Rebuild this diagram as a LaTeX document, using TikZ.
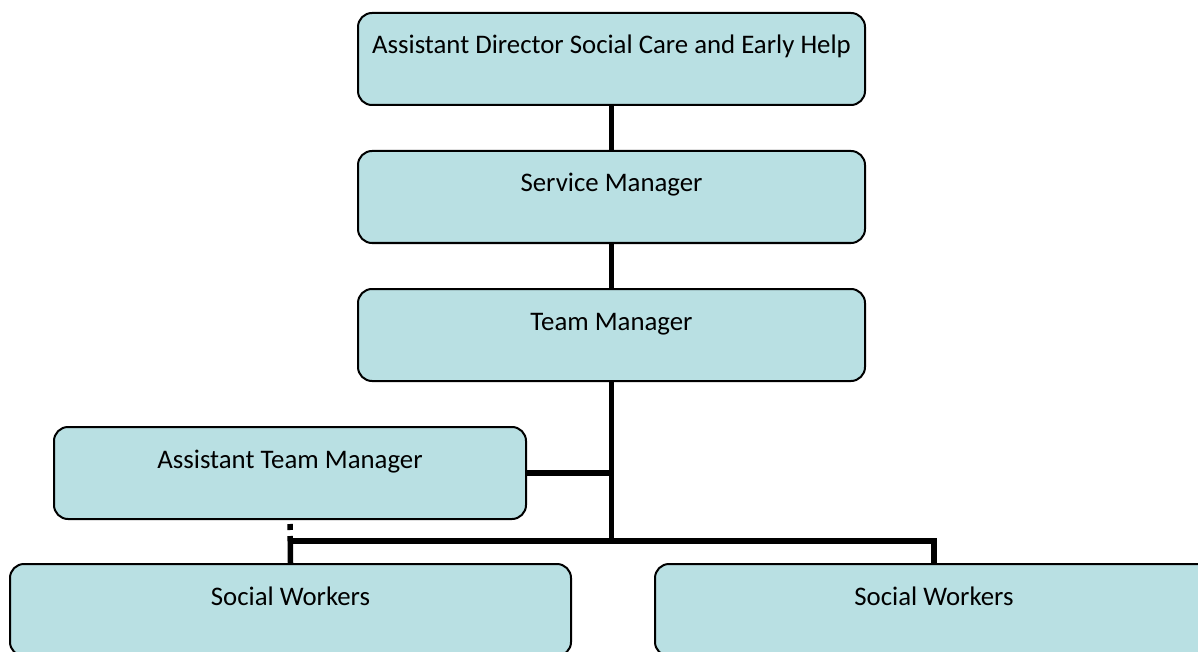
\documentclass[tikz,border=0pt]{standalone}
\usepackage{fontspec}
\setmainfont{Carlito}
\definecolor{boxfill}{RGB}{185,224,227}
\begin{document}
\begin{tikzpicture}[x=1pt, y=-1pt,
        box/.style={draw, line width=2pt, fill=boxfill, rounded corners=14pt,
            inner xsep=0pt, inner ysep=0pt, text height=41pt, text depth=51pt,
            anchor=north, font=\fontsize{26.8}{30}\selectfont},
        link/.style={line width=5.5pt}]
            \clip (0,0) rectangle (1198,652);
            \node[box, minimum width=507pt] (ad) at (611.5,12) {Assistant Director Social Care and Early Help};
            \node[box, minimum width=507pt] (sm) at (611.5,150) {Service Manager};
            \node[box, minimum width=507pt] (tm) at (611.5,288) {Team Manager};
            \node[box, minimum width=472pt] (atm) at (290,426) {Assistant Team Manager};
            \node[box, minimum width=561pt] (swl) at (290.5,563) {Social Workers};
            \node[box, minimum width=558pt] (swr) at (934,563) {Social Workers};
            \coordinate (bus) at (611.5,541);
            \draw[link] (ad.south) -- (sm.north);
            \draw[link] (sm.south) -- (tm.north);
            \draw[link] (tm.south) -- (bus);
            \draw[link] (atm.east) -- (atm.east -| tm.south);
            \draw[link] (swl.north |- bus) -- (bus -| swr.north) -- (swr.north);
            \draw[link, dash pattern=on 0pt off 4pt on 6pt off 6pt on 60pt] (atm.south) -- (swl.north);
        \end{tikzpicture}
\end{document}
